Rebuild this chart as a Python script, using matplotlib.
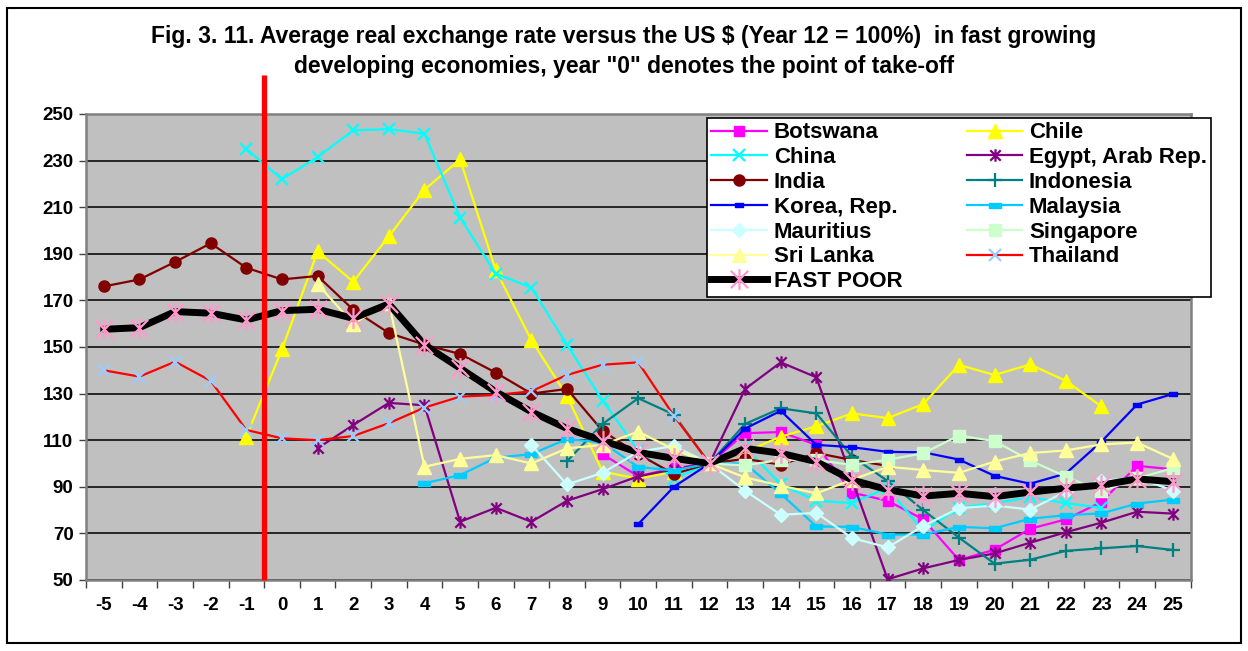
import numpy as np
import matplotlib
matplotlib.use("Agg")
import matplotlib.pyplot as plt
from matplotlib.path import Path
from matplotlib.patches import Rectangle

plt.rcParams['font.family'] = ['Liberation Sans', 'DejaVu Sans']
plt.rcParams['font.weight'] = 'bold'
plt.rcParams['axes.unicode_minus'] = False

years = list(range(-5, 26))
N = None

botswana  = [N,N,N,N,N, N,N,N,N,N, N,N,N,N,104,94.5,98,100,113,113.5,108,87.5,84,76,58.6,63,72,76,83.5,99,97.5]
chile     = [N,N,N,N,111.5, 149,191,178,197.5,217.5,230.5,183,153,129,96.5,93.5,96.5,100,105,111.5,116,121.5,119.5,125.5,142.3,138,142.5,135.5,124.5,N,N]
china     = [N,N,N,N,235, 222,231.5,243,243.5,241.5,205.5,181.5,175.5,151,127,105.5,93.5,100,107,91,84,83,89.5,71,81,83,85.5,83,81,N,N]
egypt     = [N,N,N,N,N, N,106.5,116.5,126,125,75,81,75,84,89,94.5,97.5,100,132,143.4,137,93,50.3,55,58.6,61.4,66,70.5,74.6,79.3,78.5]
india     = [176,179,186.5,194.5,184, 179,180.5,166,156,151,147,139,130,132,114,104,95.5,100,102,99.5,104.5,101.5,99,N,N,N,N,N,N,N,N]
indonesia = [N,N,N,N,N, N,N,N,N,N, N,N,N,101,117,128,121,100,117,123.7,121.5,103,92.5,80,68.2,57,58.7,62.5,63.6,64.6,62.9]
korea     = [N,N,N,N,N, N,N,N,N,N, N,N,N,N,N,74,90,100,115,122.6,108,107,105,104.8,101.7,94.7,91.3,95.7,109.4,125.3,129.8]
malaysia  = [N,N,N,N,N, N,N,N,N,91.5,95,102.5,104,110.5,109,98.5,97,100,100,87,73,72.8,69.5,69.5,72.8,72.2,76.3,77.8,78.6,82.8,84.5]
mauritius = [N,N,N,N,N, N,N,N,N,N, N,N,108,91,96,105,107.5,100,88.3,78,78.8,68,64,73.2,80.8,82,80.2,88,92.5,94,88.4]
singapore = [N,N,N,N,N, N,N,N,N,N, N,N,N,N,N,N,N,100,99.2,101.6,101.5,99.4,101.6,104.4,112,109.6,101.3,94.4,88,93.6,98]
srilanka  = [N,N,N,N,N, N,177,160,169,98.6,102,103.6,100,106.5,108,113.7,106,100,94,90.5,87.2,93,98.6,97.2,96,100.8,104.5,105.6,108.2,109,102]
thailand  = [140,137.3,143.7,135.5,114.4, 110.8,110,111.8,117.3,124,128.7,129.4,131,138,142.4,143.4,120.5,100,N,N,N,N,N,N,N,N,N,N,N,N,N]
fastpoor  = [157.6,158.3,165.2,164.5,161.6, 165.6,166.2,162.3,168.5,150.9,140.9,130.8,122.2,115,109.8,104.8,102.2,100,106.5,104.4,100.8,92.9,88.8,86,87.2,85.8,87.7,89.4,90.7,93.4,92.2]

y_ticks = list(range(50, 251, 20))
title_lines = ['Fig. 3. 11. Average real exchange rate versus the US $ (Year 12 = 100%)  in fast growing',
               'developing economies, year "0" denotes the point of take-off']

def arr(v):
    return np.array([np.nan if a is None else a for a in v], dtype=float)

asterisk = Path([(-1, -1), (1, 1), (-1, 1), (1, -1), (0, -1.2), (0, 1.2)],
                [Path.MOVETO, Path.LINETO, Path.MOVETO, Path.LINETO, Path.MOVETO, Path.LINETO])
dash = Path([(-1, -0.45), (1, -0.45), (1, 0.45), (-1, 0.45), (-1, -0.45)],
            [Path.MOVETO, Path.LINETO, Path.LINETO, Path.LINETO, Path.CLOSEPOLY])

W, H = 1248, 651
fig = plt.figure(figsize=(W / 100, H / 100), dpi=100)
ax = fig.add_axes([86 / W, 1 - 580 / H, (1190.5 - 86) / W, (580 - 114) / H])
ax.set_facecolor('#C0C0C0')

series = [
    ('Botswana', botswana, dict(color='#FF00FF', marker='s', ms=7, mfc='#FF00FF', mec='#FF00FF')),
    ('Chile', chile, dict(color='#FFFF00', marker='^', ms=10, mfc='#FFFF00', mec='#FFFF00')),
    ('China', china, dict(color='#00FFFF', marker='x', ms=9, mec='#00FFFF', mew=1.6)),
    ('Egypt, Arab Rep.', egypt, dict(color='#800080', marker=asterisk, ms=9, mec='#800080', mew=1.6)),
    ('India', india, dict(color='#800000', marker='o', ms=8, mfc='#800000', mec='#800000')),
    ('Indonesia', indonesia, dict(color='#008080', marker='+', ms=10, mec='#008080', mew=1.6)),
    ('Korea, Rep.', korea, dict(color='#0000FF', marker=dash, ms=6, mfc='#0000FF', mec='#0000FF')),
    ('Malaysia', malaysia, dict(color='#00CCFF', marker=dash, ms=8, mfc='#00CCFF', mec='#00CCFF')),
    ('Mauritius', mauritius, dict(color='#CCFFFF', marker='D', ms=7, mfc='#CCFFFF', mec='#CCFFFF')),
    ('Singapore', singapore, dict(color='#CCFFCC', marker='s', ms=8, mfc='#CCFFCC', mec='#CCFFCC')),
    ('Sri Lanka', srilanka, dict(color='#FFFF99', marker='^', ms=10, mfc='#FFFF99', mec='#FFFF99')),
    ('Thailand', thailand, dict(color='#FF0000', marker='x', ms=9, mec='#99CCFF', mew=1.6)),
]

handles = {}
for i, (name, vals, kw) in enumerate(series):
    h, = ax.plot(years, arr(vals), lw=1.6, label=name, zorder=3 + i * 0.01, **kw)
    handles[name] = h
h, = ax.plot(years, arr(fastpoor), color='black', lw=5, marker=asterisk, ms=15,
             mec='#FF99CC', mew=1.6, label='FAST POOR', zorder=3.5)
handles['FAST POOR'] = h

ax.plot([-0.5, -0.5], [50, 266.7], color='#FF0000', lw=3.8, clip_on=False, zorder=5,
        solid_capstyle='butt')

ax.set_xlim(-5.5, 25.5)
ax.set_ylim(50, 250)
ax.set_yticks(y_ticks)
ax.set_xticks(years)
ax.set_xticks(np.arange(-5.5, 25.6, 1), minor=True)
ax.tick_params(axis='x', which='major', length=0, pad=12, labelsize=13.5)
ax.tick_params(axis='x', which='minor', length=6, width=1, color='#404040', direction='out')
ax.tick_params(axis='y', which='major', length=5, width=1, color='#404040', labelsize=13.5, pad=4)
for lbl in ax.get_xticklabels() + ax.get_yticklabels():
    lbl.set_fontweight('bold')
ax.yaxis.grid(True, color='#1a1a1a', lw=1.3)
ax.set_axisbelow(True)
for s in ax.spines.values():
    s.set_color('#808080')
    s.set_linewidth(1.8)

order = ['Botswana', 'China', 'India', 'Korea, Rep.', 'Mauritius', 'Sri Lanka', 'FAST POOR',
         'Chile', 'Egypt, Arab Rep.', 'Indonesia', 'Malaysia', 'Singapore', 'Thailand']
leg = ax.legend([handles[n] for n in order], order, ncol=2, loc='upper left',
                bbox_to_anchor=(707 / W, 1 - 118 / H), bbox_transform=fig.transFigure,
                prop=dict(family='Liberation Sans', weight='bold', size=16),
                frameon=True, fancybox=False, edgecolor='black', framealpha=1,
                handlelength=2.5, handletextpad=0.3, labelspacing=0.17,
                columnspacing=2.9, borderpad=0.2, borderaxespad=0)
leg.get_frame().set_linewidth(1.2)
leg.set_zorder(10)

fig.text(0.5, 1 - 37 / H, title_lines[0], ha='center', va='center', fontsize=16.5, fontweight='bold')
fig.text(0.5, 1 - 66 / H, title_lines[1], ha='center', va='center', fontsize=16.5, fontweight='bold')

fig.patches.append(Rectangle((7 / W, 8 / H), (1241 - 7) / W, (643 - 8) / H, transform=fig.transFigure,
                             fill=False, edgecolor='black', lw=1.5))

fig.savefig('out.png', dpi=100)
